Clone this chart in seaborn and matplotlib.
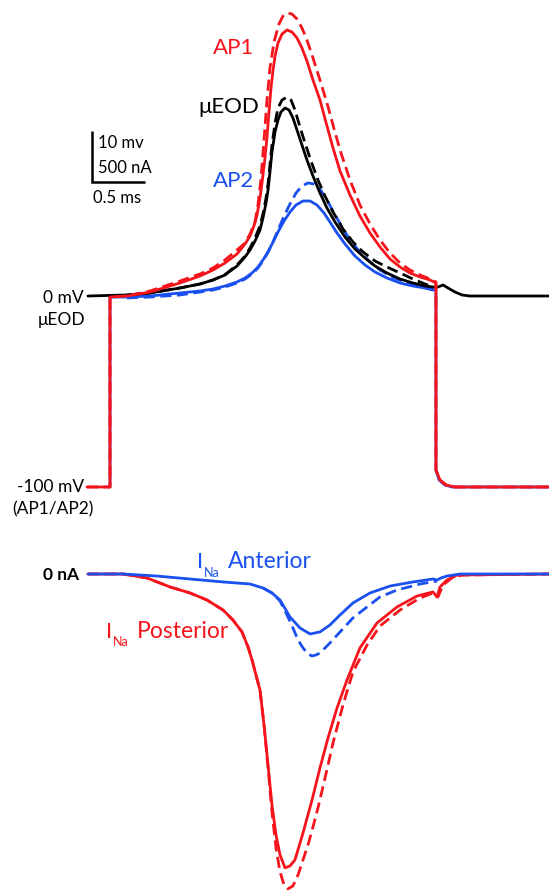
import numpy as np
import pandas as pd
import matplotlib
matplotlib.use("Agg")
import matplotlib.pyplot as plt
import seaborn as sns

# ---------------- data (time in ms, voltage in display mV, current in nA) -------------
AP1_T = [-0.217, 0, 0, 0.160, 0.377, 0.660, 0.849, 0.972, 1.085, 1.198, 1.274, 1.321, 1.358, 1.387,
         1.415, 1.434, 1.462, 1.481, 1.500, 1.519, 1.538, 1.557, 1.585, 1.623, 1.670, 1.717, 1.764,
         1.811, 1.858, 1.915, 1.981, 2.047, 2.104, 2.170, 2.264, 2.358, 2.453, 2.547, 2.642, 2.736,
         2.830, 2.925, 3.019, 3.075, 3.075, 3.113, 3.170, 3.255, 4.142]
AP1_V = [-37.45, -37.45, -0.20, 0, 0.78, 2.55, 3.92, 5.10, 6.47, 8.24, 10.20, 11.76, 13.73, 15.88,
         19.22, 22.16, 27.06, 31.18, 36.08, 40.78, 44.31, 47.06, 49.61, 51.37, 52.16, 51.76, 50.59,
         48.63, 46.08, 42.35, 38.43, 33.33, 29.02, 24.51, 19.80, 15.69, 12.35, 9.61, 7.25, 5.69,
         4.51, 3.73, 3.14, 2.55, -34.12, -36.08, -37.06, -37.45, -37.45]

AP1D_T = [-0.217, 0, 0, 0.160, 0.377, 0.660, 0.849, 0.972, 1.085, 1.198, 1.274, 1.321, 1.368, 1.396,
          1.425, 1.453, 1.481, 1.509, 1.547, 1.594, 1.632, 1.670, 1.717, 1.764, 1.811, 1.858, 1.915,
          1.981, 2.047, 2.104, 2.170, 2.264, 2.358, 2.453, 2.547, 2.642, 2.736, 2.830, 2.925, 3.019,
          3.075, 3.075, 3.113, 3.170, 3.255, 4.142]
AP1D_V = [-37.45, -37.45, -0.20, 0, 0.98, 2.94, 4.31, 5.49, 7.06, 9.02, 10.39, 12.16, 14.51, 17.84,
          23.14, 30.59, 38.43, 44.71, 49.80, 53.33, 54.90, 55.49, 55.29, 54.31, 52.55, 50.20, 46.67,
          42.35, 37.84, 33.53, 28.63, 22.75, 17.84, 14.12, 10.98, 8.43, 6.47, 5.10, 4.12, 3.33,
          2.75, -34.12, -36.08, -37.06, -37.45, -37.45]

EOD_T = [-0.208, 0.160, 0.377, 0.660, 0.849, 0.972, 1.085, 1.198, 1.274, 1.321, 1.368, 1.415, 1.443,
         1.472, 1.491, 1.509, 1.528, 1.557, 1.585, 1.613, 1.651, 1.689, 1.726, 1.764, 1.811, 1.858,
         1.915, 1.981, 2.047, 2.123, 2.217, 2.311, 2.406, 2.500, 2.613, 2.736, 2.858, 2.972, 3.047,
         3.094, 3.142, 3.189, 3.255, 3.321, 3.396, 4.142]
EOD_V = [0, 0.20, 0.59, 1.57, 2.35, 3.14, 4.12, 5.88, 7.65, 9.02, 10.78, 12.94, 15.29,
         18.24, 20.78, 24.31, 28.24, 32.16, 34.51, 36.08, 36.86, 36.47, 34.90, 32.55, 29.61, 26.67,
         23.53, 20.20, 17.25, 14.51, 11.57, 9.22, 7.45, 5.88, 4.51, 3.33, 2.55, 1.96, 1.76,
         1.76, 2.16, 1.57, 0.78, 0.20, 0, 0]

EODD_T = [0.160, 0.377, 0.660, 0.849, 0.972, 1.085, 1.198, 1.274, 1.321, 1.368, 1.415, 1.443, 1.472,
          1.491, 1.509, 1.528, 1.557, 1.585, 1.623, 1.670, 1.708, 1.745, 1.792, 1.840, 1.896, 1.962,
          2.028, 2.104, 2.198, 2.292, 2.387, 2.500, 2.613, 2.736, 2.858, 2.972, 3.047]
EODD_V = [0.20, 0.59, 1.57, 2.35, 3.14, 4.20, 6.08, 7.84, 9.41, 11.37, 13.73, 16.08, 19.22,
          21.96, 25.69, 29.61, 33.92, 36.86, 38.43, 39.02, 38.43, 36.47, 33.14, 30.00, 26.47, 22.75,
          19.61, 16.47, 13.14, 10.59, 8.63, 6.86, 5.69, 4.51, 3.33, 2.35, 1.76]

AP2_T = [0, 0, 0.160, 0.377, 0.660, 0.849, 0.972, 1.085, 1.198, 1.274, 1.340, 1.396, 1.443, 1.491,
         1.538, 1.585, 1.642, 1.698, 1.755, 1.821, 1.887, 1.953, 2.019, 2.075, 2.142, 2.217, 2.311,
         2.406, 2.500, 2.613, 2.736, 2.858, 2.972, 3.047, 3.075, 3.075, 3.104, 3.160, 3.226, 4.142]
AP2_V = [-37.45, -0.20, -0.20, 0, 0.59, 0.98, 1.37, 1.96, 2.75, 3.53, 4.51, 5.69, 7.06, 8.63,
         10.59, 12.55, 14.71, 16.47, 17.84, 18.63, 18.63, 17.84, 16.27, 14.51, 12.35, 10.20, 7.84,
         6.08, 4.71, 3.53, 2.55, 1.96, 1.57, 1.18, 1.18, -34.12, -36.08, -37.06, -37.45, -37.45]

AP2D_T = [0.160, 0.377, 0.660, 0.849, 0.972, 1.085, 1.198, 1.274, 1.340, 1.396, 1.443, 1.491, 1.538,
          1.585, 1.642, 1.698, 1.755, 1.811, 1.868, 1.925, 1.981, 2.047, 2.113, 2.189, 2.264, 2.358,
          2.453, 2.547, 2.660, 2.783, 2.906, 3.019, 3.066]
AP2D_V = [-0.39, -0.20, 0.20, 0.78, 1.18, 1.76, 2.55, 3.33, 4.31, 5.49, 6.86, 8.63, 10.59,
          12.94, 15.69, 18.04, 20.20, 21.57, 22.16, 21.96, 20.98, 18.82, 16.27, 13.53, 10.98, 8.63,
          6.67, 5.10, 3.73, 2.75, 1.96, 1.37, 1.18]

ANT_T = [-0.208, 0.123, 0.443, 0.755, 1.066, 1.321, 1.443, 1.528, 1.604, 1.698, 1.792, 1.887, 1.981,
         2.075, 2.170, 2.292, 2.453, 2.642, 2.858, 3.047, 3.085, 3.123, 3.179, 3.302, 4.142]
ANT_I = [0, 0, -20, -49, -78, -98, -137, -186, -255, -421, -529, -588, -568,
         -500, -402, -284, -186, -118, -78, -49, -59, -39, -20, 0, 0]

ANTD_T = [1.443, 1.528, 1.604, 1.670, 1.726, 1.774, 1.821, 1.868, 1.906, 1.943, 1.981, 2.075, 2.170,
          2.292, 2.425, 2.547, 2.708, 2.925, 3.085]
ANTD_I = [-137, -186, -265, -402, -529, -647, -725, -784, -804, -794, -774, -676, -568,
          -431, -323, -225, -157, -98, -69]

POST_T = [-0.208, 0.123, 0.349, 0.566, 0.755, 0.915, 1.066, 1.160, 1.245, 1.302, 1.340, 1.377, 1.415,
          1.453, 1.491, 1.528, 1.566, 1.604, 1.651, 1.698, 1.745, 1.821, 1.906, 1.981, 2.057, 2.142,
          2.236, 2.358, 2.519, 2.708, 2.896, 3.047, 3.085, 3.113, 3.179, 3.274, 4.142]
POST_I = [0, 0, -39, -127, -186, -255, -353, -451, -568, -715, -843, -990, -1137,
          -1480, -1872, -2264, -2558, -2754, -2881, -2862, -2803, -2538, -2215, -1901, -1607, -1313,
          -1039, -725, -480, -323, -216, -176, -225, -127, -59, -10, 0]

POSTD_T = [-0.208, 0.123, 0.349, 0.566, 0.755, 0.915, 1.066, 1.160, 1.245, 1.302, 1.340, 1.377, 1.415,
           1.453, 1.491, 1.528, 1.566, 1.604, 1.642, 1.679, 1.726, 1.774, 1.821, 1.868, 1.915, 1.962,
           2.009, 2.057, 2.104, 2.198, 2.292, 2.425, 2.547, 2.736, 2.925, 3.047, 3.094, 3.142, 3.236,
           3.330, 4.142]
POSTD_I = [0, 0, -39, -127, -186, -255, -353, -451, -568, -715, -843, -990, -1137,
           -1480, -1901, -2332, -2685, -2920, -3048, -3087, -3058, -2950, -2803, -2656, -2479, -2293,
           -2087, -1872, -1656, -1284, -960, -696, -510, -353, -235, -186, -225, -108, -29,
           -10, 0]

SCALE_MV = 10
SCALE_MS = 0.5
SCALE_ORIGIN = (-0.17, 22.35)

RED = "#f5141c"
BLUE = "#1a50f0"
BLACK = "#000000"

W, H = 549, 893
sns.set_style("white")
plt.rcParams["font.family"] = ["Lato", "DejaVu Sans"]

fig = plt.figure(figsize=(W / 100, H / 100), dpi=100)
ax_v = fig.add_axes([0, 363 / H, 1, 530 / H])
ax_i = fig.add_axes([0, 0, 1, 363 / H])

XLIM = (-110 / 106, 439 / 106)
ax_v.set_xlim(*XLIM)
ax_v.set_ylim(-234 / 5.1, 296 / 5.1)
ax_i.set_xlim(*XLIM)
ax_i.set_ylim(-319 / 0.102, 44 / 0.102)

LW = 2.0
DASH = (0, (4, 2))


def trace(ax, t, y, color, dashed=False, z=2):
    df = pd.DataFrame({"t": t, "y": y})
    sns.lineplot(data=df, x="t", y="y", ax=ax, color=color, lw=LW, sort=False,
                 estimator=None, linestyle=DASH if dashed else "-", zorder=z,
                 solid_joinstyle="round", dash_joinstyle="round")


# voltage panel
trace(ax_v, AP2_T, AP2_V, BLUE, z=2)
trace(ax_v, AP2D_T, AP2D_V, BLUE, dashed=True, z=2)
trace(ax_v, EOD_T, EOD_V, BLACK, z=3)
trace(ax_v, EODD_T, EODD_V, BLACK, dashed=True, z=3)
trace(ax_v, AP1_T, AP1_V, RED, z=4)
trace(ax_v, AP1D_T, AP1D_V, RED, dashed=True, z=4)

# scale bar
x0, y0 = SCALE_ORIGIN
ax_v.plot([x0, x0, x0 + SCALE_MS], [y0 + SCALE_MV, y0, y0], color=BLACK, lw=1.8,
          solid_joinstyle="miter", solid_capstyle="butt")

# current panel
trace(ax_i, POST_T, POST_I, RED, z=2)
trace(ax_i, POSTD_T, POSTD_I, RED, dashed=True, z=2)
trace(ax_i, ANT_T, ANT_I, BLUE, z=3)
trace(ax_i, ANTD_T, ANTD_I, BLUE, dashed=True, z=3)

for ax in (ax_v, ax_i):
    ax.axis("off")


def ftxt(x, y, s, size, color=BLACK, ha="left", weight="normal"):
    fig.text(x / W, 1 - y / H, s, fontsize=size, color=color, ha=ha, va="baseline",
             fontweight=weight)


ftxt(213, 54, "AP1", 16, RED)
ftxt(198, 113, "μEOD", 16, BLACK)
ftxt(213, 187, "AP2", 16, BLUE)

ftxt(98, 148, "10 mv", 12)
ftxt(98, 173, "500 nA", 12)
ftxt(93, 203, "0.5 ms", 12)

ftxt(84, 303, "0 mV", 12.5, ha="right")
ftxt(38, 325, "μEOD", 12.5)
ftxt(84, 492, "-100 mV", 12.5, ha="right")
ftxt(12, 514, "(AP1/AP2)", 12.5)

ftxt(79, 580, "0 nA", 12.5, ha="right", weight="bold")

ftxt(197, 568, "I", 16, BLUE)
ftxt(204, 577, "Na", 9, BLUE)
ftxt(228, 568, "Anterior", 16.5, BLUE)

ftxt(106, 638, "I", 16, RED)
ftxt(113, 646, "Na", 9, RED)
ftxt(137, 638, "Posterior", 16.5, RED)

fig.savefig("out.png", dpi=100)
